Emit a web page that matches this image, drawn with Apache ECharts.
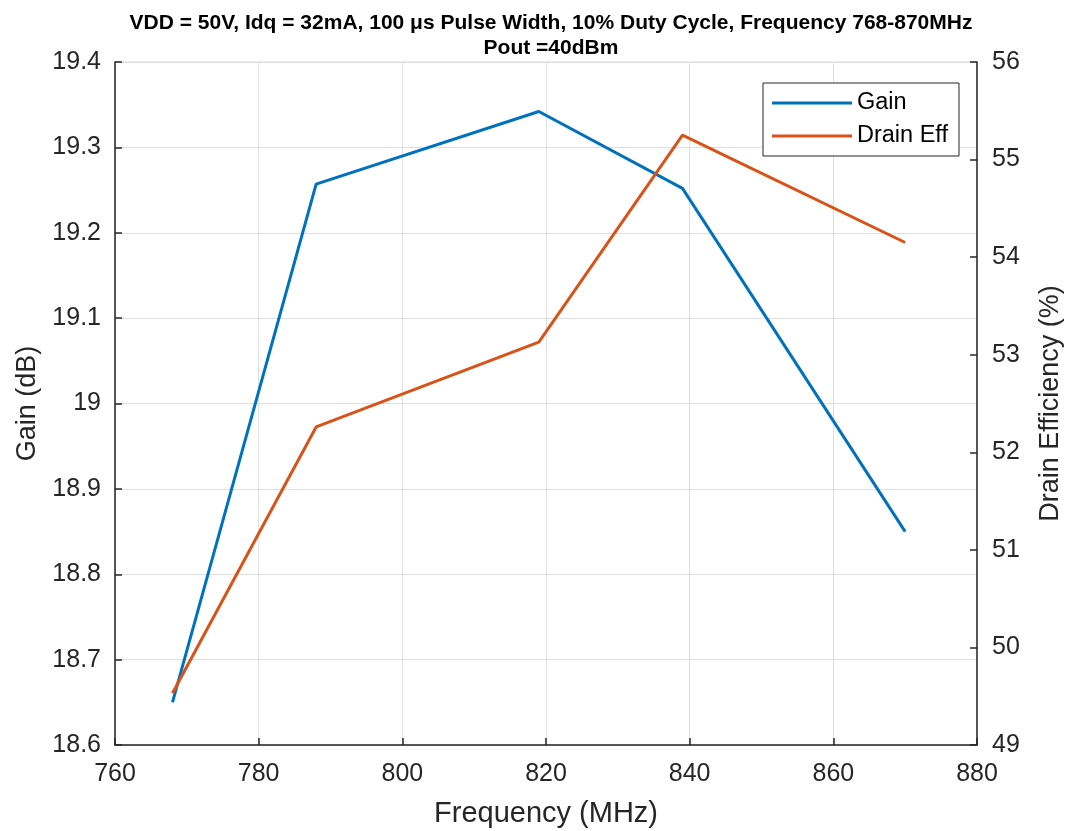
<!DOCTYPE html>
<html><head><meta charset="utf-8">
<script src="https://cdn.jsdelivr.net/npm/echarts@6/dist/echarts.min.js"></script>
<style>html,body{margin:0;padding:0;background:#fff}#c{width:1072px;height:831px}</style>
</head><body><div id="c"></div>
<script>
const freq = [768, 788, 819, 839, 870];
const gain = [18.650, 19.257, 19.342, 19.252, 18.850];
const drainEff = [49.53, 52.26, 53.13, 55.25, 54.15];
const titleLines = ['VDD = 50V, Idq = 32mA, 100 \u03bcs Pulse Width, 10% Duty Cycle, Frequency 768-870MHz', 'Pout =40dBm'];

const chart = echarts.init(document.getElementById('c'));
const font = 'Arial, "Liberation Sans", sans-serif';
const tickStyle = {show: true, inside: true, length: 7, lineStyle: {color: '#262626', width: 1.5}};
chart.setOption({
  animation: false,
  title: {
    text: titleLines.join('\n'),
    left: 546, top: 6, textAlign: 'center',
    textStyle: {fontFamily: font, fontWeight: 'bold', fontSize: 21, lineHeight: 25, color: '#000'}
  },
  grid: {left: 115, top: 62, right: 95, bottom: 86, show: true, borderColor: '#d9d9d9', borderWidth: 1,
    outerBoundsMode: 'none', containLabel: false},
  legend: {
    orient: 'vertical', left: 763, top: 83, padding: [8, 11, 8, 9],
    itemWidth: 80, itemHeight: 3, itemGap: 9,
    backgroundColor: '#fff', borderColor: '#262626', borderWidth: 1,
    textStyle: {fontFamily: font, fontSize: 23.5, color: '#000', lineHeight: 24},
    data: [{name: 'Gain', icon: 'rect'}, {name: 'Drain Eff', icon: 'rect'}]
  },
  xAxis: {
    type: 'value', min: 760, max: 880, interval: 20,
    name: 'Frequency (MHz)', nameLocation: 'middle', nameGap: 54,
    nameTextStyle: {fontFamily: font, fontSize: 29, color: '#262626'},
    axisLine: {lineStyle: {color: '#262626', width: 1.5}},
    axisTick: tickStyle,
    axisLabel: {fontFamily: font, fontSize: 25, color: '#262626', margin: 17},
    splitLine: {show: true, lineStyle: {color: '#dfdfdf', width: 1}}
  },
  yAxis: [{
    type: 'value', min: 18.6, max: 19.4, interval: 0.1, position: 'left',
    name: 'Gain (dB)', nameLocation: 'middle', nameGap: 69,
    nameTextStyle: {fontFamily: font, fontSize: 27, color: '#262626'},
    axisLine: {show: true, lineStyle: {color: '#262626', width: 1.5}},
    axisTick: tickStyle,
    axisLabel: {fontFamily: font, fontSize: 25, color: '#262626', margin: 14,
      formatter: v => String(Math.round(v * 10) / 10)},
    splitLine: {show: true, lineStyle: {color: '#dfdfdf', width: 1}}
  }, {
    type: 'value', min: 49, max: 56, interval: 1, position: 'right',
    name: 'Drain Efficiency (%)', nameLocation: 'middle', nameGap: 60, nameRotate: 90,
    nameTextStyle: {fontFamily: font, fontSize: 27, color: '#262626'},
    axisLine: {show: true, lineStyle: {color: '#262626', width: 1.5}},
    axisTick: tickStyle,
    axisLabel: {fontFamily: font, fontSize: 25, color: '#262626', margin: 15},
    splitLine: {show: false}
  }],
  series: [{
    name: 'Gain', type: 'line', yAxisIndex: 0, symbol: 'none',
    data: freq.map((f, i) => [f, gain[i]]),
    lineStyle: {color: '#0072BD', width: 3}, itemStyle: {color: '#0072BD'}
  }, {
    name: 'Drain Eff', type: 'line', yAxisIndex: 1, symbol: 'none',
    data: freq.map((f, i) => [f, drainEff[i]]),
    lineStyle: {color: '#D95319', width: 3}, itemStyle: {color: '#D95319'}
  }]
});
</script></body></html>
